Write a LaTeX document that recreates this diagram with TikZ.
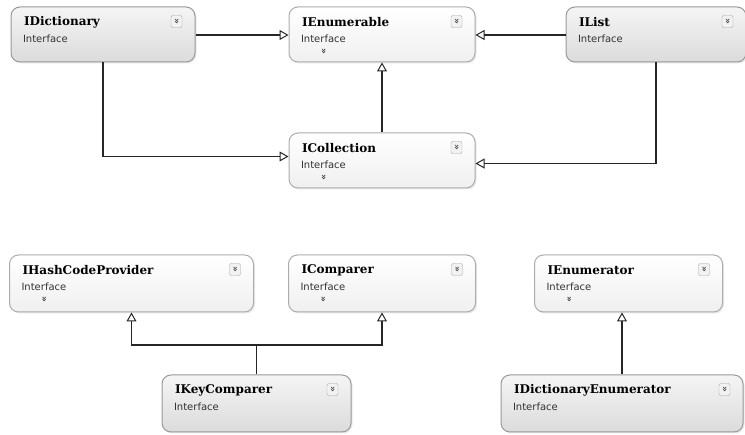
\documentclass[tikz,border=0pt]{standalone}
\usepackage{fontspec}
\setmainfont{DejaVu Serif}
\newfontfamily\boxfont{DejaVu Sans}
\usetikzlibrary{positioning, arrows.meta, shadows}

\tikzset{
  iface/.style={draw=gray!65, line width=1pt, rounded corners=9pt,
    top color=white, bottom color=gray!12,
    drop shadow={shadow xshift=1.5pt, shadow yshift=-1.5pt, opacity=.18},
    minimum height=55pt, inner sep=0pt},
  iface dark/.style={iface, draw=gray!80, top color=gray!8, bottom color=gray!28},
  title/.style={anchor=west, font=\bfseries\fontsize{12}{14}\selectfont},
  kind/.style={anchor=west, font=\boxfont\fontsize{10}{11}\selectfont, text=black!80},
  more/.style={font=\boxfont\bfseries\fontsize{9}{9}\selectfont, text=black!75},
  button/.style={draw=gray!70, rounded corners=2pt, fill=gray!10,
    minimum width=11pt, minimum height=12pt, inner sep=0pt,
    font=\boxfont\bfseries\fontsize{9}{9}\selectfont, text=black!70},
  implements/.style={draw=black!85, line width=1.6pt,
    -{Triangle[open, length=9pt, width=10pt, line width=1pt]}}
}

\begin{document}
\begin{tikzpicture}[x=1pt, y=-1pt]
  \useasboundingbox (0,0) rectangle (745,435);

  % collection interfaces
  \node[iface dark, minimum width=184pt] (dict) at (103,34.5) {};
  \node[iface, minimum width=186pt, right=93pt of dict] (enum) {};
  \node[iface dark, minimum width=180pt, right=90pt of enum] (list) {};
  \node[iface, minimum width=186pt, below=70pt of enum] (coll) {};

  % comparer and enumerator interfaces
  \node[iface, minimum width=187pt, minimum height=57pt, below=66pt of coll] (cmp) {};
  \node[iface, minimum width=244pt, minimum height=57pt, left=34pt of cmp] (hash) {};
  \node[iface, minimum width=188pt, minimum height=57pt, right=58pt of cmp] (enumr) {};
  \node[iface dark, minimum width=189pt, minimum height=57pt] (keycmp) at (256.5,403.5) {};
  \node[iface dark, minimum width=242pt, minimum height=57pt] (dictenum) at (622,403.5) {};

  % titles
  \node[title] (dict-t) at ([shift={(10,16)}]dict.north west) {IDictionary};
  \node[title] (enum-t) at ([shift={(10,16)}]enum.north west) {IEnumerable};
  \node[title] (list-t) at ([shift={(10,16)}]list.north west) {IList};
  \node[title] (coll-t) at ([shift={(10,16)}]coll.north west) {ICollection};
  \node[title] (hash-t) at ([shift={(10,16)}]hash.north west) {IHashCodeProvider};
  \node[title] (cmp-t) at ([shift={(10,16)}]cmp.north west) {IComparer};
  \node[title] (enumr-t) at ([shift={(10,16)}]enumr.north west) {IEnumerator};
  \node[title] (keycmp-t) at ([shift={(10,16)}]keycmp.north west) {IKeyComparer};
  \node[title] (dictenum-t) at ([shift={(10,16)}]dictenum.north west) {IDictionaryEnumerator};

  % stereotype line under each title
  \foreach \b in {dict, enum, list, coll, hash, cmp, enumr, keycmp, dictenum}
    \node[kind] (\b-k) at ([shift={(9,32)}]\b.north west) {Interface};

  % collapse buttons
  \foreach \b in {dict, enum, list, coll, hash, cmp, enumr, keycmp, dictenum}
    \node[button] (\b-b) at ([shift={(-19,15)}]\b.north east) {\rotatebox{-90}{»}};

  % members folded away
  \foreach \b in {enum, coll, hash, cmp, enumr}
    \node[more] (\b-m) at ([shift={(35,45)}]\b.north west) {\rotatebox{-90}{»}};

  % inheritance
  \draw[implements] (dict.east |- 0,35) -- (enum.west |- 0,35);
  \draw[implements] (list.west |- 0,35) -- (enum.east |- 0,35);
  \draw[implements] (coll.north) -- (enum.south);
  \draw[implements] (dict.south) |- ([yshift=4pt]coll.west);
  \draw[implements] (list.south) |- ([yshift=-3pt]coll.east);

  \coordinate (kc) at (keycmp.north |- 0,345);
  \draw[black!85, line width=1.6pt] (keycmp.north) -- (kc);
  \draw[implements] (kc) -| (hash.south);
  \draw[implements] (kc) -| (cmp.south);
  \draw[implements] (dictenum.north) -- (dictenum.north |- enumr.south);
\end{tikzpicture}
\end{document}
